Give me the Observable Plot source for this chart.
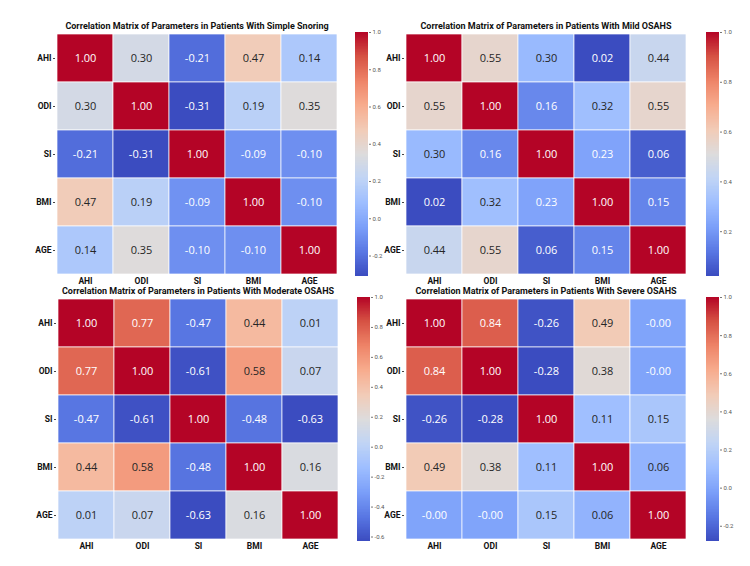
<!DOCTYPE html>
<html>
<head>
<meta charset="utf-8">
<script src="https://cdn.jsdelivr.net/npm/d3@7"></script>
<script src="https://cdn.jsdelivr.net/npm/@observablehq/plot@0.6"></script>
<style>
  html, body { margin: 0; padding: 0; background: #ffffff; }
  #chart { position: relative; width: 750px; height: 566px; overflow: hidden; background: #fff; }
  #chart > svg, #chart > div.title { position: absolute; }
  .title {
    font-family: Roboto, "DejaVu Sans", sans-serif;
    font-weight: bold; font-size: 9px; line-height: 10px; color: #111;
    white-space: nowrap; transform: translateX(-50%);
  }
</style>
</head>
<body>
<div id="chart"></div>
<script>
// Parameters shown on both axes of every matrix
const params = ["AHI", "ODI", "SI", "BMI", "AGE"];

// Pearson correlation matrices, one per patient group (rows/cols in params order)
const simpleSnoring = [
  [ 1.00,  0.30, -0.21,  0.47,  0.14],
  [ 0.30,  1.00, -0.31,  0.19,  0.35],
  [-0.21, -0.31,  1.00, -0.09, -0.10],
  [ 0.47,  0.19, -0.09,  1.00, -0.10],
  [ 0.14,  0.35, -0.10, -0.10,  1.00]
];
const mildOSAHS = [
  [1.00, 0.55, 0.30, 0.02, 0.44],
  [0.55, 1.00, 0.16, 0.32, 0.55],
  [0.30, 0.16, 1.00, 0.23, 0.06],
  [0.02, 0.32, 0.23, 1.00, 0.15],
  [0.44, 0.55, 0.06, 0.15, 1.00]
];
const moderateOSAHS = [
  [ 1.00,  0.77, -0.47,  0.44,  0.01],
  [ 0.77,  1.00, -0.61,  0.58,  0.07],
  [-0.47, -0.61,  1.00, -0.48, -0.63],
  [ 0.44,  0.58, -0.48,  1.00,  0.16],
  [ 0.01,  0.07, -0.63,  0.16,  1.00]
];
const severeOSAHS = [
  [ 1.00,   0.84,  -0.26, 0.49, -0.004],
  [ 0.84,   1.00,  -0.28, 0.38, -0.004],
  [-0.26,  -0.28,   1.00, 0.11,  0.15],
  [ 0.49,   0.38,   0.11, 1.00,  0.06],
  [-0.004, -0.004,  0.15, 0.06,  1.00]
];

// Panel titles
const titles = [
  "Correlation Matrix of Parameters in Patients With  Simple Snoring",
  "Correlation Matrix of Parameters in Patients With Mild OSAHS",
  "Correlation Matrix of Parameters in Patients With Moderate OSAHS",
  "Correlation Matrix of Parameters in Patients With Severe OSAHS"
];
const matrices = [simpleSnoring, mildOSAHS, moderateOSAHS, severeOSAHS];

// Diverging blue–grey–red ramp (matplotlib "coolwarm")
const coolwarmStops = ["#3b4cc0", "#5977e3", "#7b9ff9", "#9ebeff", "#c0d4f5",
  "#dddcdc", "#f2cbb7", "#f7ac8e", "#ee8468", "#d65244", "#b40426"];
const coolwarm = d3.piecewise(d3.interpolateRgb, coolwarmStops);

// Text colour that stays readable on a given fill
function textColor(fill) {
  const c = d3.rgb(fill);
  const lin = v => { v /= 255; return v <= 0.03928 ? v / 12.92 : Math.pow((v + 0.055) / 1.055, 2.4); };
  const L = 0.2126 * lin(c.r) + 0.7152 * lin(c.g) + 0.0722 * lin(c.b);
  return L > 0.408 ? "#262626" : "#ffffff";
}

// Layout of the 2×2 grid: top-left corner of each heatmap and x of its colour bar
const layout = [
  {hx: 55,  hy: 32,  cbx: 355},
  {hx: 404, hy: 32,  cbx: 706},
  {hx: 56,  hy: 297, cbx: 357},
  {hx: 404, hy: 297, cbx: 706}
];
const cellW = 56.8, cellH = 48.8;
const mL = 45, mT = 1, mB = 14, mR = 2;
const barTop = 5;

const chart = document.getElementById("chart");

matrices.forEach((m, k) => {
  const cells = [];
  m.forEach((row, i) => row.forEach((v, j) => cells.push({row: params[i], col: params[j], value: v})));
  const vmin = d3.min(cells, d => d.value);
  const colorOpts = {type: "linear", domain: [vmin, 1], interpolate: coolwarm};
  const scale = d3.scaleSequential([vmin, 1], coolwarm);
  const pos = layout[k];

  const heat = Plot.plot({
    width: mL + cellW * 5 + mR,
    height: mT + cellH * 5 + mB,
    marginLeft: mL, marginRight: mR, marginTop: mT, marginBottom: mB,
    style: {fontFamily: "Roboto, 'DejaVu Sans', sans-serif", background: "transparent"},
    x: {domain: params, padding: 0, label: null},
    y: {domain: params, padding: 0, label: null},
    color: colorOpts,
    marks: [
      Plot.cell(cells, {x: "col", y: "row", fill: "value", stroke: "#ffffff", strokeWidth: 0.7}),
      Plot.text(cells, {
        x: "col", y: "row",
        text: d => d.value.toFixed(2),
        fill: d => textColor(scale(d.value)),
        fontSize: 11, fontFamily: "'Open Sans', sans-serif"
      }),
      Plot.axisX({anchor: "bottom", tickSize: 0, tickPadding: 1, fontSize: 8.5, fontWeight: "bold", fill: "#111", label: null}),
      Plot.axisY({anchor: "left", tickSize: 2, tickPadding: 2, fontSize: 8.5, fontWeight: "bold", fill: "#111", stroke: "#444", label: null})
    ]
  });
  heat.style.left = (pos.hx - mL) + "px";
  heat.style.top = (pos.hy - mT) + "px";
  chart.appendChild(heat);

  // Colour bar: thin slices from vmin to 1 along a linear y axis
  const N = 160, step = (1 - vmin) / N;
  const slices = d3.range(N).map(i => vmin + i * step);
  const bar = Plot.plot({
    width: 13 + 24, height: barTop + cellH * 5 + 5,
    marginLeft: 0, marginRight: 24, marginTop: barTop, marginBottom: 5,
    style: {fontFamily: "Roboto, 'DejaVu Sans', sans-serif", background: "transparent"},
    x: {domain: [0, 1], axis: null},
    y: {domain: [vmin, 1], axis: null},
    color: colorOpts,
    marks: [
      Plot.rect(slices, {x1: 0, x2: 1, y1: d => d, y2: d => Math.min(1, d + step * 1.6), fill: d => d + step / 2}),
      Plot.axisY({anchor: "right", ticks: d3.range(Math.ceil(vmin / 0.2) * 0.2, 1.0001, 0.2),
        tickFormat: d => d.toFixed(1), tickSize: 2, tickPadding: 2, fontSize: 6, fill: "#555", stroke: "#777", label: null})
    ]
  });
  bar.style.left = pos.cbx + "px";
  bar.style.top = (pos.hy - barTop) + "px";
  chart.appendChild(bar);

  const t = document.createElement("div");
  t.className = "title";
  t.textContent = titles[k];
  t.style.left = (pos.hx + cellW * 2.5) + "px";
  t.style.top = (pos.hy - 11) + "px";
  chart.appendChild(t);
});
</script>
</body>
</html>
